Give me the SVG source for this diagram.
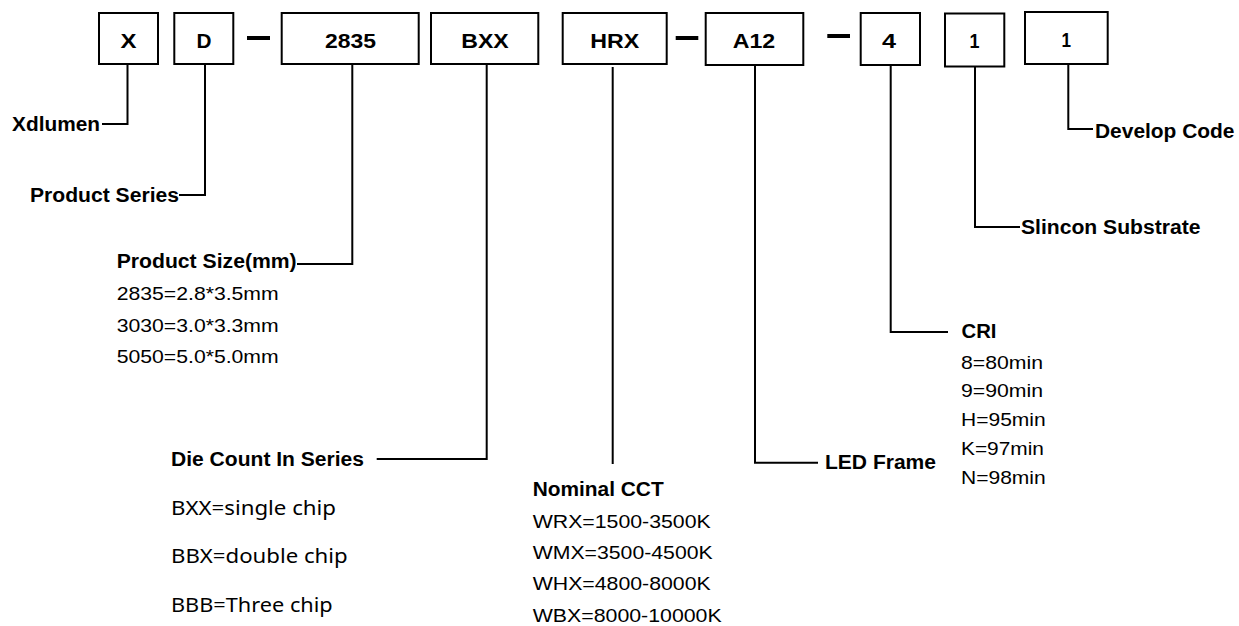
<svg xmlns="http://www.w3.org/2000/svg" width="1239" height="626" viewBox="0 0 1239 626">
<style>
.box{fill:#fff;stroke:#000;stroke-width:2}
.lbl{font-family:"Liberation Sans",Arial,sans-serif;font-weight:bold;font-size:21px;fill:#000;text-anchor:middle}
.b{font-family:"Liberation Sans",Arial,sans-serif;font-weight:bold;font-size:19.5px;fill:#000}
.r{font-family:"Liberation Sans",Arial,sans-serif;font-size:19px;fill:#000}
.s{font-family:"Noto Sans","Open Sans",sans-serif;font-size:20.5px;fill:#000}
.ln{fill:none;stroke:#000;stroke-width:2}
.dash{stroke:#000;stroke-width:4}
</style>
<rect width="1239" height="626" fill="#fff"/>
<g id="node-X"><rect class="box" x="99" y="13" width="59" height="51"/><text class="lbl" x="128.5" y="47.5" textLength="16" lengthAdjust="spacingAndGlyphs">X</text></g>
<g id="node-D"><rect class="box" x="174.3" y="13" width="59" height="51"/><text class="lbl" x="204" y="47.5" textLength="15" lengthAdjust="spacingAndGlyphs">D</text></g>
<g id="node-2835"><rect class="box" x="281.7" y="13" width="137" height="51"/><text class="lbl" x="350.5" y="47.5" textLength="51" lengthAdjust="spacingAndGlyphs">2835</text></g>
<g id="node-BXX"><rect class="box" x="431" y="13" width="107.3" height="51"/><text class="lbl" x="485" y="47.5" textLength="47.5" lengthAdjust="spacingAndGlyphs">BXX</text></g>
<g id="node-HRX"><rect class="box" x="562.7" y="13" width="104" height="51"/><text class="lbl" x="614.7" y="47.5" textLength="49" lengthAdjust="spacingAndGlyphs">HRX</text></g>
<g id="node-A12"><rect class="box" x="705.7" y="13" width="97.6" height="52"/><text class="lbl" x="754" y="48.3" textLength="42.5" lengthAdjust="spacingAndGlyphs">A12</text></g>
<g id="node-4"><rect class="box" x="860.7" y="13" width="59.3" height="52"/><text class="lbl" x="889" y="47.5" textLength="14" lengthAdjust="spacingAndGlyphs">4</text></g>
<g id="node-1a"><rect class="box" x="945" y="13.5" width="59.3" height="53"/><text class="lbl" x="974.5" y="48" textLength="10" lengthAdjust="spacingAndGlyphs">1</text></g>
<g id="node-1b"><rect class="box" x="1025" y="12" width="82.7" height="52"/><text class="lbl" x="1066.2" y="46.7" textLength="9.5" lengthAdjust="spacingAndGlyphs">1</text></g>
<g id="dashes">
<line class="dash" x1="247" y1="38" x2="270" y2="38"/>
<line class="dash" x1="675.7" y1="38" x2="698.3" y2="38"/>
<line class="dash" x1="827.3" y1="36" x2="850" y2="36"/>
</g>
<g id="connectors">
<path class="ln" d="M127.5 64 V124 H102"/>
<path class="ln" d="M205 64 V195 H179"/>
<path class="ln" d="M352.3 64 V264 H297"/>
<path class="ln" d="M486.7 64 V459 H376.7"/>
<path class="ln" d="M612.7 67 V464"/>
<path class="ln" d="M755 64 V462.7 H818"/>
<path class="ln" d="M890.7 65 V332 H948"/>
<path class="ln" d="M975 67 V227 H1020"/>
<path class="ln" d="M1068.3 64 V129 H1093"/>
</g>
<g id="label-xdlumen"><text class="b" x="12" y="130.5" textLength="88" lengthAdjust="spacingAndGlyphs">Xdlumen</text></g>
<g id="label-series"><text class="b" x="30" y="201.5" textLength="149" lengthAdjust="spacingAndGlyphs">Product Series</text></g>
<g id="label-size">
<text class="b" x="116.7" y="268" textLength="180" lengthAdjust="spacingAndGlyphs">Product Size(mm)</text>
<text class="r" x="116.7" y="300" textLength="162" lengthAdjust="spacingAndGlyphs">2835=2.8*3.5mm</text>
<text class="r" x="116.7" y="331.5" textLength="162" lengthAdjust="spacingAndGlyphs">3030=3.0*3.3mm</text>
<text class="r" x="116.7" y="363" textLength="162" lengthAdjust="spacingAndGlyphs">5050=5.0*5.0mm</text>
</g>
<g id="label-die">
<text class="b" x="171" y="466" textLength="193" lengthAdjust="spacingAndGlyphs">Die Count In Series</text>
<text class="s" x="171" y="515" textLength="165" lengthAdjust="spacingAndGlyphs">BXX=single chip</text>
<text class="s" x="171" y="563.3" textLength="176.7" lengthAdjust="spacingAndGlyphs">BBX=double chip</text>
<text class="s" x="171" y="611.7" textLength="161.7" lengthAdjust="spacingAndGlyphs">BBB=Three chip</text>
</g>
<g id="label-cct">
<text class="b" x="532.7" y="496" textLength="131" lengthAdjust="spacingAndGlyphs">Nominal CCT</text>
<text class="r" x="532.7" y="528.3" textLength="178" lengthAdjust="spacingAndGlyphs">WRX=1500-3500K</text>
<text class="r" x="532.7" y="559.3" textLength="180" lengthAdjust="spacingAndGlyphs">WMX=3500-4500K</text>
<text class="r" x="532.7" y="590.3" textLength="178" lengthAdjust="spacingAndGlyphs">WHX=4800-8000K</text>
<text class="r" x="532.7" y="621.5" textLength="189" lengthAdjust="spacingAndGlyphs">WBX=8000-10000K</text>
</g>
<g id="label-frame"><text class="b" x="825" y="469" textLength="111" lengthAdjust="spacingAndGlyphs">LED Frame</text></g>
<g id="label-cri">
<text class="b" x="961.5" y="337.5" textLength="35" lengthAdjust="spacingAndGlyphs">CRI</text>
<text class="r" x="961" y="368.5" textLength="82" lengthAdjust="spacingAndGlyphs">8=80min</text>
<text class="r" x="961" y="397" textLength="82" lengthAdjust="spacingAndGlyphs">9=90min</text>
<text class="r" x="961" y="426" textLength="84.7" lengthAdjust="spacingAndGlyphs">H=95min</text>
<text class="r" x="961" y="455" textLength="83" lengthAdjust="spacingAndGlyphs">K=97min</text>
<text class="r" x="961" y="484" textLength="84.7" lengthAdjust="spacingAndGlyphs">N=98min</text>
</g>
<g id="label-substrate"><text class="b" x="1021" y="233.5" textLength="179.5" lengthAdjust="spacingAndGlyphs">Slincon Substrate</text></g>
<g id="label-develop"><text class="b" x="1095" y="138" textLength="139.5" lengthAdjust="spacingAndGlyphs">Develop Code</text></g>
</svg>
